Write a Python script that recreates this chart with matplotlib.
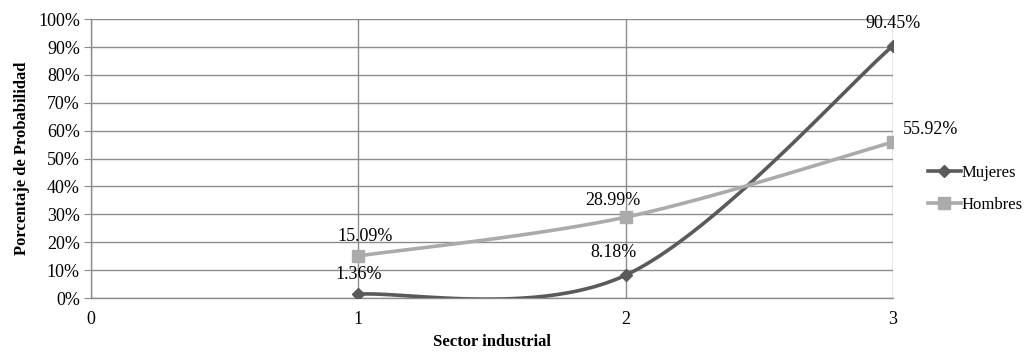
import numpy as np
import matplotlib.pyplot as plt
from matplotlib.ticker import FuncFormatter, MultipleLocator

# Probabilidad por sector industrial
sectores = [1, 2, 3]
mujeres = [1.36, 8.18, 90.45]
hombres = [15.09, 28.99, 55.92]
etiquetas_mujeres = ["1.36%", "8.18%", "90.45%"]
etiquetas_hombres = ["15.09%", "28.99%", "55.92%"]

# desplazamientos de las etiquetas (puntos)
off_mujeres = [(0, 8), (-9, 10), (0, 10)]
off_hombres = [(5, 8), (-9, 6), (27, 3)]

C_MUJ = "#5a5a5a"
C_HOM = "#ababab"
C_GRID = "#8c8c8c"
FS = 13

plt.rcParams['font.family'] = ['Liberation Serif', 'DejaVu Serif']


def suavizar(x, y, n=60):
    """Curva suavizada tipo Catmull-Rom (bezier cubico) entre los puntos."""
    p = np.column_stack([x, y]).astype(float)
    ext = np.vstack([p[0], p, p[-1]])
    t = np.linspace(0, 1, n)[:, None]
    out = []
    for i in range(len(p) - 1):
        p0, p1, p2, p3 = ext[i], ext[i + 1], ext[i + 2], ext[i + 3]
        c1 = p1 + (p2 - p0) / 6
        c2 = p2 - (p3 - p1) / 6
        seg = ((1 - t) ** 3) * p1 + 3 * ((1 - t) ** 2) * t * c1 + 3 * (1 - t) * t ** 2 * c2 + t ** 3 * p2
        out.append(seg)
    c = np.vstack(out)
    return c[:, 0], c[:, 1]


fig = plt.figure(figsize=(10.29, 3.53), dpi=100)
ax = fig.add_axes([0.0884, 0.1558, 0.7794, 0.790])

for xs, ys, col, mk, ms, lab in [
    (sectores, mujeres, C_MUJ, "D", 6.5, "Mujeres"),
    (sectores, hombres, C_HOM, "s", 8, "Hombres"),
]:
    sx, sy = suavizar(xs, ys)
    ax.plot(sx, sy, color=col, lw=2.6, solid_capstyle="round", zorder=3)
    ax.plot(xs, ys, ls="none", marker=mk, ms=ms, color=col, zorder=4)
    ax.plot([], [], color=col, lw=2.6, marker=mk, ms=ms, label=lab)

for x, y, t, o in zip(sectores, mujeres, etiquetas_mujeres, off_mujeres):
    ax.annotate(t, (x, y), xytext=o, textcoords="offset points", ha="center", va="bottom", fontsize=FS, zorder=5)
for x, y, t, o in zip(sectores, hombres, etiquetas_hombres, off_hombres):
    ax.annotate(t, (x, y), xytext=o, textcoords="offset points", ha="center", va="bottom", fontsize=FS, zorder=5)

ax.set_xlim(0, 3)
ax.set_ylim(0, 100)
ax.xaxis.set_major_locator(MultipleLocator(1))
ax.yaxis.set_major_locator(MultipleLocator(10))
ax.yaxis.set_major_formatter(FuncFormatter(lambda v, _: f"{v:.0f}%"))
ax.grid(True, color=C_GRID, lw=1.0)
ax.set_axisbelow(True)

for s in ["top", "right"]:
    ax.spines[s].set_visible(False)
for s in ["left", "bottom"]:
    ax.spines[s].set_color(C_GRID)
    ax.spines[s].set_linewidth(1.0)
ax.tick_params(axis="y", length=5, color=C_GRID, labelsize=FS, pad=3)
ax.tick_params(axis="x", length=0, labelsize=FS, pad=9)

ax.set_xlabel("Sector industrial", fontsize=12, fontweight="bold", labelpad=5)
ax.set_ylabel("Porcentaje de Probabilidad", fontsize=12, fontweight="bold", labelpad=6)

ax.legend(loc="center left", bbox_to_anchor=(1.035, 0.39), frameon=False, fontsize=12,
          handlelength=2.0, handletextpad=0.05, labelspacing=0.95, borderaxespad=0)

fig.savefig("out.png", dpi=100)
